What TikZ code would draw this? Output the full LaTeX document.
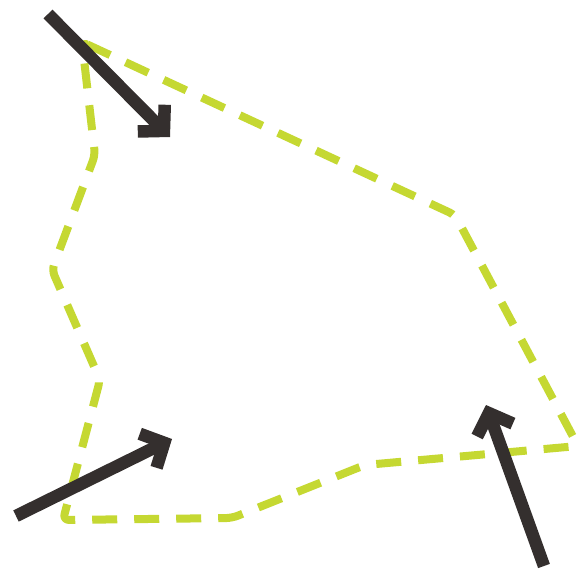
\documentclass[tikz,border=0pt]{standalone}
\usetikzlibrary{arrows.meta}
\definecolor{Lime}{RGB}{197,216,50}
\definecolor{Charcoal}{RGB}{52,47,46}
\tikzset{
  outline/.style={draw=Lime,line width=8pt,dash pattern=on 25pt off 17pt,rounded corners=6pt,line join=round},
  push/.style={draw=Charcoal,line width=12.5pt,-{Straight Barb[length=18pt,width=38pt]}}
}
\begin{document}
\begin{tikzpicture}[x=1pt,y=-1pt]
  \useasboundingbox (0,0) rectangle (582,571);
  \draw[outline] (82,42) -- (455,215) -- (578,446) -- (365,465) -- (232,518) -- (63,520) -- (100,380) -- (52,270) -- (95,155) -- cycle;
  \coordinate (nwTail) at (48,14);
  \coordinate (nwTip) at (170,137);
  \coordinate (swTail) at (16,516);
  \coordinate (swTip) at (172,439);
  \coordinate (seTail) at (544,566);
  \coordinate (seTip) at (486,405);
    \draw[push] (nwTail)--(nwTip);
    \draw[push] (swTail)--(swTip);
    \draw[push] (seTail)--(seTip);
\end{tikzpicture}
\end{document}
